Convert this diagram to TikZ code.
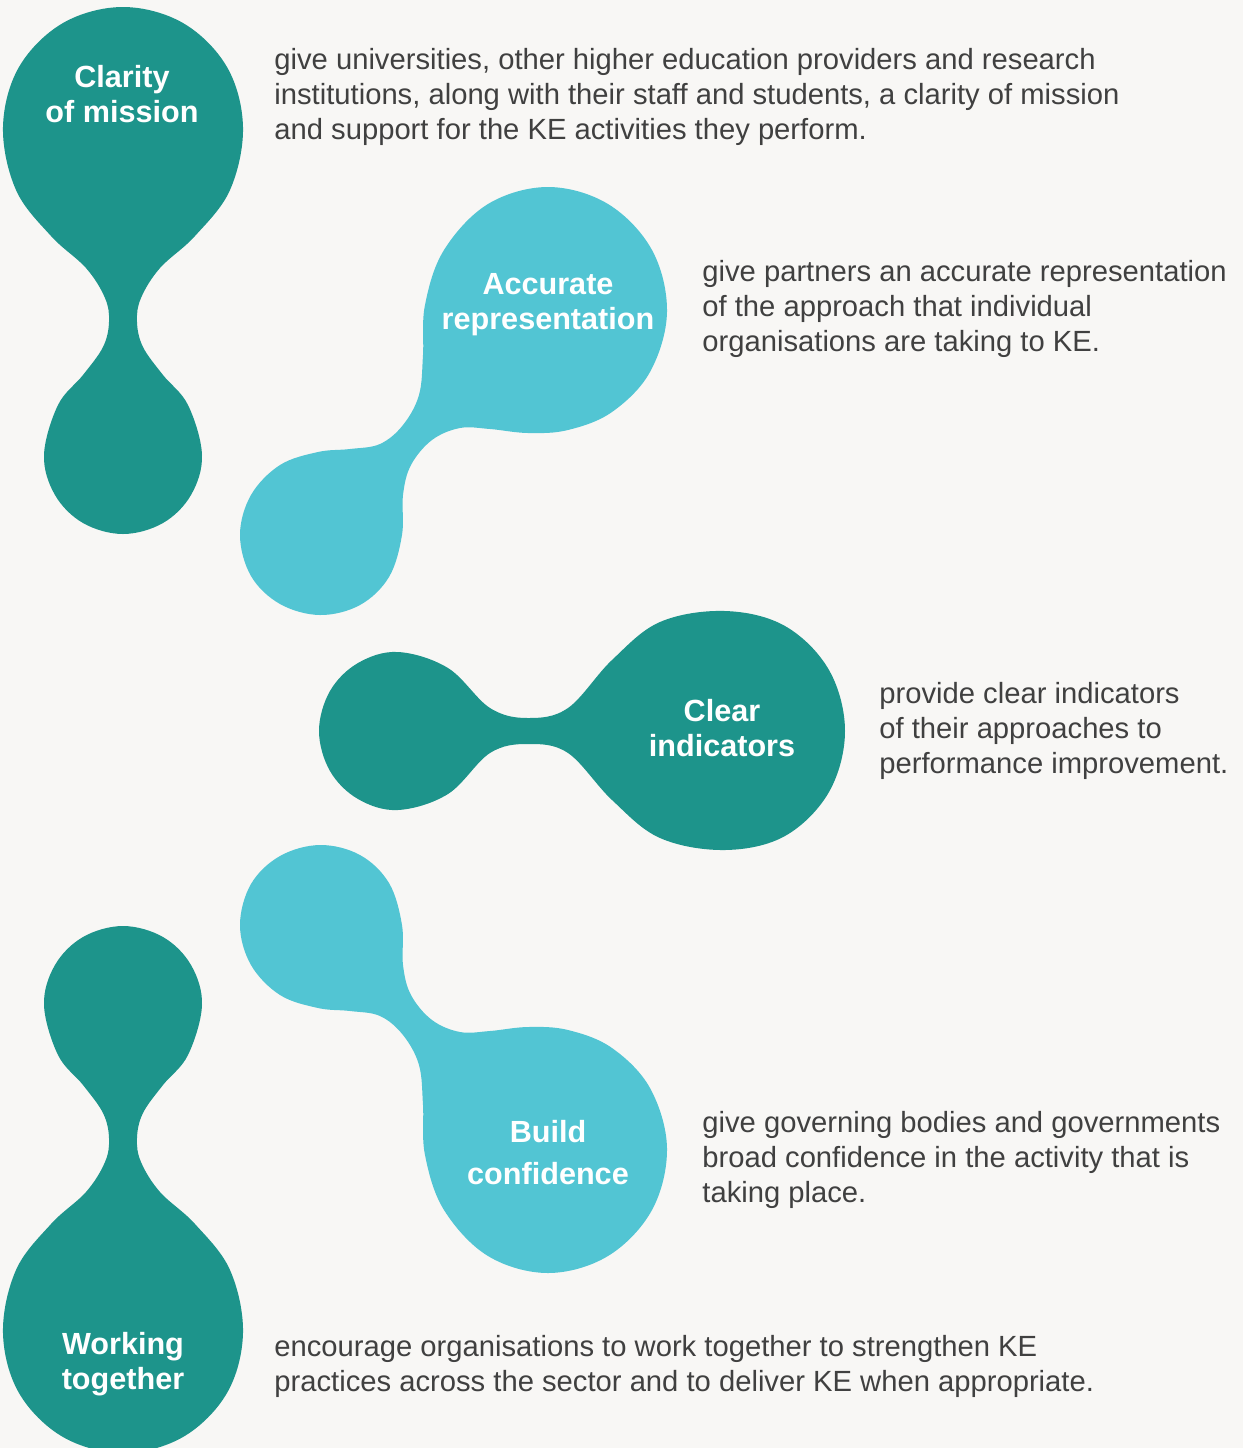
\documentclass[tikz,border=0pt]{standalone}
\usepackage{fontspec}
\setmainfont{Liberation Sans}
\usepackage{xcolor}

\definecolor{keteal}{HTML}{1D948B}
\definecolor{keaqua}{HTML}{52C5D3}
\definecolor{kepaper}{HTML}{F8F7F5}
\definecolor{kegrey}{HTML}{404040}

\tikzset{
  blobtitle/.style={font=\bfseries\fontsize{15.3}{17.5}\selectfont, text=white, align=center, inner sep=0pt},
  blurb/.style={font=\fontsize{14.6}{17.5}\selectfont, text=kegrey, align=left, anchor=west, inner sep=0pt},
}

\begin{document}
\begin{tikzpicture}[x=0.5pt, y=-0.5pt]
    \fill[kepaper] (0,0) rectangle (1243,1448);
    \useasboundingbox (0,0) rectangle (1243,1448);
    \clip (0,0) rectangle (1243,1448);

    % top two blobs, and their mirror images below
    \foreach \flip in {1,-1} {
        \begin{scope}[shift={(0,730)}, yscale=\flip, shift={(0,-730)}]
            \fill[keteal] plot[smooth cycle, tension=0.6] coordinates {
                (123,7) (183,23) (227,67) (243,127) (230,190) (195,236) (160,268)
                (141,298) (137,322) (143,347) (163,375) (188,405) (202,455) (191,495)
                (163,523) (123,534) (83,523) (55,495) (44,455) (58,405) (83,375)
                (103,347) (109,322) (105,298) (86,268) (51,236) (16,190) (3,127)
                (19,67) (63,23)};
            \fill[keaqua] plot[smooth cycle, tension=0.6] coordinates {
                (548,187) (608,204) (652,250) (667,312) (650,372) (612,412) (568,430)
                (528,433) (490,429) (460,428) (432,440) (411,465) (403,495) (402,535)
                (389,577) (360,605) (320,615) (280,604) (251,576) (240,535) (251,495)
                (280,465) (318,452) (350,449) (380,444) (403,425) (419,395) (423,355)
                (425,305) (444,250) (488,204)};
        \end{scope}
    }

    % middle blob
    \fill[keteal] plot[smooth cycle, tension=0.6] coordinates {
        (319,731) (330,691) (358,663) (398,652) (448,668) (490,708) (528,718)
        (568,708) (612,660) (660,622) (725,611) (785,626) (829,670) (845,731)
        (829,792) (785,836) (725,850) (660,838) (612,800) (568,753) (528,744)
        (490,753) (448,794) (398,810) (358,799) (330,771)};

    \node[blobtitle] (clarity) at (122,94) {Clarity\\of mission};
    \node[blobtitle] (accurate) at (548,305) {Accurate\\representation};
    \node[blobtitle] (clear) at (722,728) {Clear\\indicators};
    \node[blobtitle] (build) at (548,1153) {Build\\[3.5pt]confidence};
    \node[blobtitle] (working) at (123,1364) {Working\\together};

    \node[blurb] (claritytext) at (274,97) {give universities, other higher education providers and research\\institutions, along with their staff and students, a clarity of mission\\and support for the KE activities they perform.};
    \node[blurb] (accuratetext) at (702,309) {give partners an accurate representation\\of the approach that individual\\organisations are taking to KE.};
    \node[blurb] (cleartext) at (879,731) {provide clear indicators\\of their approaches to\\performance improvement.};
    \node[blurb] (buildtext) at (702,1160) {give governing bodies and governments\\broad confidence in the activity that is\\taking place.};
    \node[blurb] (workingtext) at (274,1366) {encourage organisations to work together to strengthen KE\\practices across the sector and to deliver KE when appropriate.};
\end{tikzpicture}
\end{document}
